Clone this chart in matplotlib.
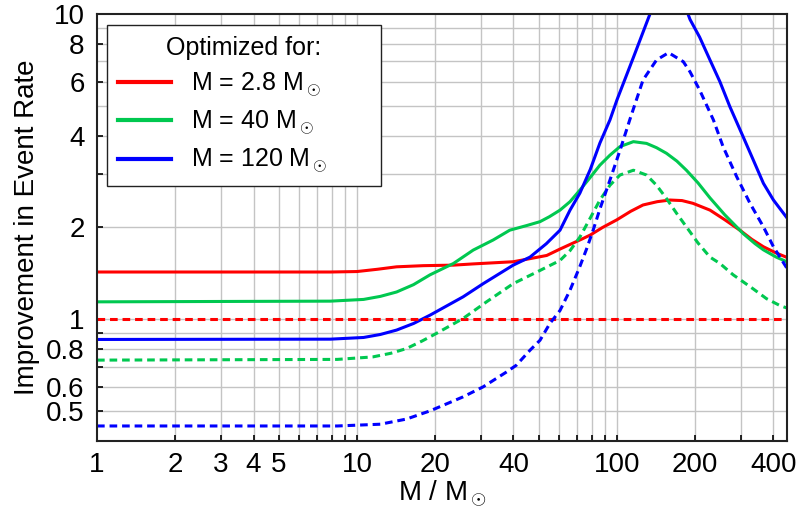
import numpy as np
import matplotlib
matplotlib.use('Agg')
import matplotlib.pyplot as plt

plt.rcParams['font.family'] = ['Liberation Sans', 'DejaVu Sans']
plt.rcParams['mathtext.fontset'] = 'custom'
plt.rcParams['mathtext.rm'] = 'Liberation Sans'
plt.rcParams['mathtext.it'] = 'Liberation Sans:italic'

# data
red_x = [1, 7.9, 10, 12, 14.2, 18, 23.5, 28, 39.9, 46, 53.7, 60.4, 66, 74, 79, 88, 100, 113, 126, 143, 160,
         178, 196, 228, 260, 297, 330, 366, 410, 451]
red_y = [1.43, 1.43, 1.435, 1.46, 1.487, 1.50, 1.506, 1.52, 1.545, 1.58, 1.62, 1.70, 1.76, 1.84, 1.89, 2.00,
         2.12, 2.26, 2.37, 2.43, 2.46, 2.45, 2.40, 2.28, 2.12, 1.96, 1.83, 1.73, 1.65, 1.596]
red_dash_x = [1, 451]
red_dash_y = [1.0, 1.0]

green_x = [1, 7.9, 10.6, 12.3, 14.2, 16.5, 19.1, 23.5, 28, 33.4, 38.7, 45, 50.6, 55, 60.4, 66, 72, 79, 86,
           94, 102.7, 115.7, 130, 142, 155, 170, 185, 205, 228, 260, 306, 340, 366, 410, 451]
green_y = [1.142, 1.148, 1.163, 1.19, 1.23, 1.30, 1.40, 1.525, 1.687, 1.82, 1.96, 2.03, 2.09, 2.17, 2.28,
           2.43, 2.65, 2.92, 3.20, 3.45, 3.68, 3.82, 3.77, 3.65, 3.50, 3.30, 3.08, 2.80, 2.50, 2.20, 1.91,
           1.77, 1.69, 1.60, 1.544]
green_dash_x = [1, 8.4, 11.5, 13.5, 15.5, 17.8, 20.2, 25.6, 31.5, 39.9, 49.2, 60.4, 66, 72, 79, 86, 94,
                102.7, 115.7, 130, 142, 155, 170, 185, 205, 228, 249, 280, 334, 376, 424, 451]
green_dash_y = [0.736, 0.74, 0.754, 0.775, 0.803, 0.85, 0.90, 1.0075, 1.142, 1.31, 1.43, 1.56, 1.68, 1.86,
                2.15, 2.46, 2.75, 2.97, 3.08, 2.97, 2.75, 2.49, 2.22, 2.01, 1.78, 1.60, 1.525, 1.40, 1.26,
                1.17, 1.11, 1.09]

blue_x = [1, 7.9, 10.6, 12.3, 14.2, 16.5, 19.1, 25.6, 30.6, 39.9, 46.3, 53.5, 60.4, 66, 72, 79, 86, 94,
          100, 116, 134, 150, 165, 180, 191, 208, 228, 249, 272, 306, 336, 366, 400, 451]
blue_y = [0.86, 0.862, 0.873, 0.893, 0.923, 0.97, 1.033, 1.186, 1.31, 1.506, 1.60, 1.77, 1.96, 2.28, 2.59,
          3.1, 3.78, 4.50, 5.23, 7.25, 10.0, 11.3, 11.6, 11.0, 9.6, 8.4, 7.07, 6.0, 4.97, 3.96, 3.3, 2.79,
          2.46, 2.15]
blue_dash_x = [1, 8.4, 12.3, 15.5, 19.1, 25.6, 30.6, 37.6, 41, 46.3, 50.6, 55.2, 60.4, 66, 72, 76.4, 81,
               86, 94, 103, 112, 126, 142, 158, 180, 191, 208, 235, 256, 289, 325, 366, 400, 451]
blue_dash_y = [0.448, 0.448, 0.454, 0.472, 0.502, 0.558, 0.602, 0.673, 0.708, 0.793, 0.855, 0.97, 1.07,
               1.247, 1.49, 1.70, 1.96, 2.30, 2.86, 3.6, 4.5, 6.08, 7.07, 7.47, 6.98, 6.47, 5.64, 4.5,
               3.68, 2.93, 2.40, 2.01, 1.73, 1.47]

labels = ['M = 2.8 M$_\\odot$', 'M = 40 M$_\\odot$', 'M = 120 M$_\\odot$']

xticks = [1, 2, 3, 4, 5, 10, 20, 40, 100, 200, 400]
xminor = [6, 7, 8, 9, 30, 50, 60, 70, 80, 90, 300]
yticks = [0.5, 0.6, 0.8, 1, 2, 4, 6, 8, 10]
yminor = [0.7, 0.9, 3]
xgrid = [2, 3, 4, 5, 6, 7, 8, 9, 10, 20, 30, 40, 50, 60, 70, 80, 90, 100, 200, 300, 400]
ygrid = [0.5, 0.6, 0.7, 0.8, 0.9, 1, 2, 3, 4, 5, 6, 7, 8, 9]

RED = '#ff0000'
GREEN = '#00c850'
BLUE = '#0000ff'
lw = 2.2
dash = (0, (2.5, 1.6))

fig = plt.figure(figsize=(7.98, 5.2), dpi=100)
ax = fig.add_axes([0.1216, 0.1519, 0.8646, 0.8212])
ax.set_xscale('log')
ax.set_yscale('log')
ax.set_xlim(1, 451)
ax.set_ylim(0.4, 10)

for g in xgrid:
    ax.axvline(g, color='#c4c4c4', lw=1.0, zorder=0)
for g in ygrid:
    ax.axhline(g, color='#c4c4c4', lw=1.0, zorder=0)

ax.plot(red_x, red_y, color=RED, lw=lw, label=labels[0])
ax.plot(green_x, green_y, color=GREEN, lw=lw, label=labels[1])
ax.plot(blue_x, blue_y, color=BLUE, lw=lw, label=labels[2])
ax.plot(red_dash_x, red_dash_y, color=RED, lw=lw, linestyle=dash)
ax.plot(green_dash_x, green_dash_y, color=GREEN, lw=lw, linestyle=dash)
ax.plot(blue_dash_x, blue_dash_y, color=BLUE, lw=lw, linestyle=dash)

ax.set_xticks(xticks)
ax.set_xticklabels([str(t) for t in xticks])
ax.set_xticks(xminor, minor=True)
ax.set_xticklabels([], minor=True)
ax.set_yticks(yticks)
ax.set_yticklabels([('%g' % t) for t in yticks])
ax.set_yticks(yminor, minor=True)
ax.set_yticklabels([], minor=True)
ax.tick_params(which='both', direction='in', length=4.5, width=1.2, labelsize=20)
ax.tick_params(axis='x', pad=8)
ax.tick_params(axis='y', pad=9)

for s in ax.spines.values():
    s.set_linewidth(1.5)
    s.set_color('#222222')

ax.set_xlabel('M / M$_\\odot$', fontsize=20, labelpad=0)
ax.set_ylabel('Improvement in Event Rate', fontsize=20, labelpad=4)

leg = ax.legend(loc='upper left', bbox_to_anchor=(0.0145, 0.0, 0.397, 0.974), mode='expand',
                borderaxespad=0, title='Optimized for:', title_fontsize=18, fontsize=18,
                fancybox=False, framealpha=1, edgecolor='#222222',
                handlelength=2.1, handletextpad=0.8, labelspacing=0.4, borderpad=0.45)
leg.get_frame().set_linewidth(1.0)
for line in leg.get_lines():
    line.set_linewidth(3)

fig.savefig('out.png', dpi=100)
